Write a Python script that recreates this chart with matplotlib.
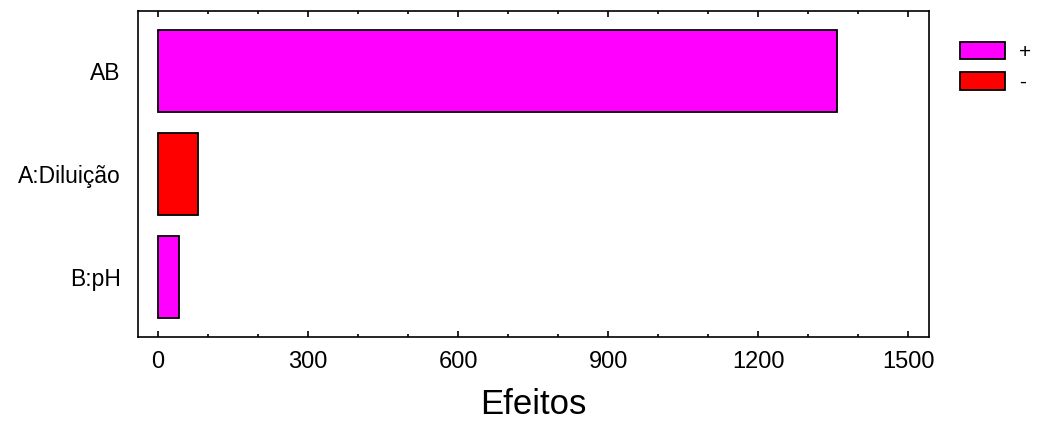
import matplotlib.pyplot as plt
from matplotlib.patches import Patch
from matplotlib.ticker import MultipleLocator

plt.rcParams['font.family'] = ['Liberation Sans', 'DejaVu Sans']

# effects (absolute values), bottom to top
factors = ['B:pH', 'A:Diluição', 'AB']
effects = [41, 80, 1358]
signs = ['+', '-', '+']

sign_colors = {'+': '#ff00ff', '-': '#ff0000'}

fig = plt.figure(figsize=(10.38, 4.21), dpi=100)
ax = fig.add_axes([0.1325, 0.1995, 0.7622, 0.7744])

ypos = list(range(len(factors)))
ax.barh(ypos, effects, height=0.8, color=[sign_colors[s] for s in signs],
        edgecolor='black', linewidth=1.3, zorder=3)

ax.set_xlim(-41, 1541)
ax.set_ylim(-0.59, 2.59)
ax.set_yticks(ypos)
ax.set_yticklabels(factors)

ax.xaxis.set_major_locator(MultipleLocator(300))
ax.xaxis.set_minor_locator(MultipleLocator(100))
ax.tick_params(axis='x', which='both', direction='in', top=True, bottom=True,
               width=1.2, labelsize=17, pad=10)
ax.tick_params(axis='x', which='major', length=4.5)
ax.tick_params(axis='x', which='minor', length=2.2)
ax.tick_params(axis='y', length=0, labelsize=16.5, pad=12)

for sp in ax.spines.values():
    sp.set_linewidth(1.2)

ax.set_xlabel('Efeitos', fontsize=25, labelpad=11)

handles = [Patch(facecolor=sign_colors['+'], edgecolor='black', linewidth=1.3, label='+'),
           Patch(facecolor=sign_colors['-'], edgecolor='black', linewidth=1.3, label='-')]
fig.legend(handles=handles, loc='upper left', bbox_to_anchor=(960 / 1038, 1 - 42 / 421),
           frameon=False, fontsize=15, handlelength=2.15, handleheight=0.9,
           handletextpad=0.7, labelspacing=0.5, borderpad=0, borderaxespad=0)

fig.savefig('out.png', dpi=100)
